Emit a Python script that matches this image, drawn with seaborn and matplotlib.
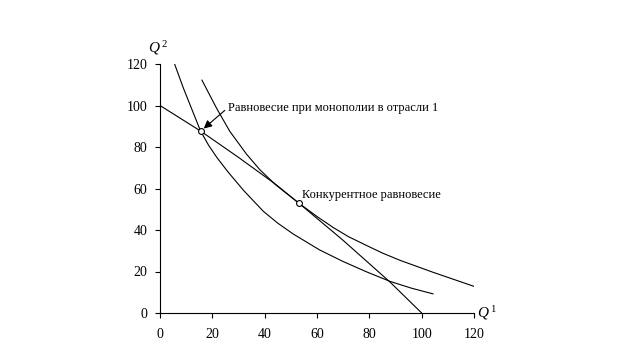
import matplotlib
matplotlib.use("Agg")
import matplotlib.pyplot as plt
import seaborn as sns
import pandas as pd

# Production possibility frontier
ppf_q1 = [0, 15.5, 30, 44, 53.1, 70, 88, 100]
ppf_q2 = [100, 87.7, 75, 62.2, 52.9, 35, 14.8, 0]

# Lower indifference curve (through monopoly equilibrium)
ic1_q1 = [5, 8.9, 12.7, 15.5, 18.5, 21.7, 26.1, 32, 39.5, 45, 51, 61, 70, 79, 88, 96, 104.4]
ic1_q2 = [122, 108.5, 96.5, 87.7, 81, 75, 67.8, 59, 49, 43.3, 38, 30.4, 24.8, 19.8, 15.2, 12, 9.2]

# Upper indifference curve (tangent at competitive equilibrium)
ic2_q1 = [16, 21.7, 26.7, 33.1, 38.2, 44, 53.1, 60, 66.2, 72, 79, 85, 91.7, 104.4, 121]
ic2_q2 = [112.3, 98.5, 87.5, 76.5, 69, 62, 52.9, 46.5, 41.2, 36.8, 32.5, 28.9, 25.4, 19.6, 12.4]

# Equilibrium points
mono_pt = (15.5, 87.7)
comp_pt = (53.1, 52.9)

x_ticks = [0, 20, 40, 60, 80, 100, 120]
y_ticks = [0, 20, 40, 60, 80, 100, 120]

label_mono = "Равновесие при монополии в отрасли 1"
label_comp = "Конкурентное равновесие"

sns.set_theme(style="white")
plt.rcParams['font.family'] = ['Liberation Serif', 'DejaVu Serif']
plt.rcParams['mathtext.fontset'] = 'custom'
plt.rcParams['mathtext.it'] = 'Liberation Serif:italic'
plt.rcParams['mathtext.rm'] = 'Liberation Serif'
plt.rcParams['text.color'] = 'black'

fig = plt.figure(figsize=(6.23, 3.61), dpi=100)
ax = fig.add_axes([160/623, 1-313/361, (474-160)/623, (313-64)/361])

df_ppf = pd.DataFrame({"q1": ppf_q1, "q2": ppf_q2})
df_ic1 = pd.DataFrame({"q1": ic1_q1, "q2": ic1_q2})
df_ic2 = pd.DataFrame({"q1": ic2_q1, "q2": ic2_q2})

for d in (df_ppf, df_ic1, df_ic2):
    sns.lineplot(data=d, x="q1", y="q2", ax=ax, color="black", lw=0.8,
                 sort=False, estimator=None)

ax.plot([mono_pt[0], comp_pt[0]], [mono_pt[1], comp_pt[1]], ls="none",
        marker="o", ms=4.2, mfc="white", mec="black", mew=0.8, zorder=5)

ax.annotate(label_mono, xy=(mono_pt[0] + 1.2, mono_pt[1] + 1.2), xytext=(26, 99),
            fontsize=9, va="center", ha="left", color="black",
            arrowprops=dict(arrowstyle="-|>", color="black", lw=0.8,
                            mutation_scale=12, shrinkA=0, shrinkB=0,
                            relpos=(0, 0.5)))
ax.text(comp_pt[0] + 1, comp_pt[1] + 4, label_comp, fontsize=9, va="center",
        ha="left", color="black")

ax.set_xlim(0, 120)
ax.set_ylim(0, 120)
ax.set_xticks(x_ticks)
ax.set_yticks(y_ticks)
ax.tick_params(axis="both", direction="out", length=3.6, width=0.8, color="black",
               labelsize=10, labelcolor="black", bottom=True, left=True)
ax.tick_params(axis="x", pad=7)
ax.tick_params(axis="y", pad=5.5)
for s in ("top", "right"):
    ax.spines[s].set_visible(False)
for s in ("left", "bottom"):
    ax.spines[s].set_color("black")
    ax.spines[s].set_linewidth(0.8)
ax.set_xlabel("")
ax.set_ylabel("")

ax.text(-0.005, 1.03, "$Q^{\\,2}$", transform=ax.transAxes, fontsize=11,
        ha="center", va="bottom", color="black")
ax.text(1.01, 0.0, "$Q^{\\,1}$", transform=ax.transAxes, fontsize=11,
        ha="left", va="center", color="black")

fig.savefig("out.png", dpi=100)
